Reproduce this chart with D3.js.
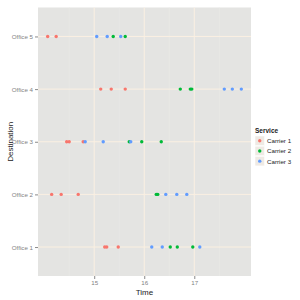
<!DOCTYPE html>
<html>
<head>
<meta charset="utf-8">
<script src="https://cdn.jsdelivr.net/npm/d3@7"></script>
<style>
body { margin: 0; background: #fff; }
text { font-family: "Liberation Sans", Arial, sans-serif; }
</style>
</head>
<body>
<div id="chart"></div>
<script>
var svgWidth = 300;
var svgHeight = 300;

var offices = ["Office 1", "Office 2", "Office 3", "Office 4", "Office 5"];
var carriers = ["Carrier 1", "Carrier 2", "Carrier 3"];
var carrierColors = ["#F8766D", "#00BA38", "#619CFF"];
var xTicks = [15, 16, 17];
var xMinor = [14.5, 15.5, 16.5, 17.5];

// each carrier: departure times and the office they go to
var carrier1Time = [14.07, 14.24, 15.13, 15.34, 15.62, 14.45, 14.50, 14.78, 14.15, 14.34, 14.68, 15.21, 15.25, 15.48];
var carrier1Dest = ["Office 5", "Office 5", "Office 4", "Office 4", "Office 4", "Office 3", "Office 3", "Office 3", "Office 2", "Office 2", "Office 2", "Office 1", "Office 1", "Office 1"];
var carrier2Time = [15.38, 15.62, 16.72, 16.92, 16.95, 15.70, 15.95, 16.34, 16.24, 16.27, 16.52, 16.66, 16.97];
var carrier2Dest = ["Office 5", "Office 5", "Office 4", "Office 4", "Office 4", "Office 3", "Office 3", "Office 3", "Office 2", "Office 2", "Office 1", "Office 1", "Office 1"];
var carrier3Time = [15.05, 15.26, 15.53, 17.60, 17.76, 17.94, 14.82, 15.18, 15.73, 16.43, 16.65, 16.85, 16.15, 16.36, 17.11];
var carrier3Dest = ["Office 5", "Office 5", "Office 5", "Office 4", "Office 4", "Office 4", "Office 3", "Office 3", "Office 3", "Office 2", "Office 2", "Office 2", "Office 1", "Office 1", "Office 1"];

var points = [];
[[carrier1Time, carrier1Dest], [carrier2Time, carrier2Dest], [carrier3Time, carrier3Dest]].forEach(function(pair, c) {
    pair[0].forEach(function(t, i) {
        points.push({time: t, dest: pair[1][i], carrier: carriers[c]});
    });
});

var panel = {left: 38, right: 251, top: 7.5, bottom: 276};

var svg = d3.select("#chart")
    .append("svg")
    .attr("width", svgWidth)
    .attr("height", svgHeight);

var ext = d3.extent(points, d => d.time);
var pad = (ext[1] - ext[0]) * 0.05;

var x = d3.scaleLinear()
    .domain([ext[0] - pad, ext[1] + pad])
    .range([panel.left, panel.right]);

var y = d3.scalePoint()
    .domain(offices.slice().reverse())
    .range([panel.top, panel.bottom])
    .padding(0.55);

var color = d3.scaleOrdinal().domain(carriers).range(carrierColors);

svg.append("rect")
    .attr("x", panel.left)
    .attr("y", panel.top)
    .attr("width", panel.right - panel.left)
    .attr("height", panel.bottom - panel.top)
    .attr("fill", "#e4e4e2");

// minor grid
svg.selectAll(".minor")
    .data(xMinor)
    .enter()
    .append("line")
    .attr("x1", d => x(d)).attr("x2", d => x(d))
    .attr("y1", panel.top).attr("y2", panel.bottom)
    .attr("stroke", "#eaeae7")
    .attr("stroke-width", 0.5);

// major grid
svg.selectAll(".vgrid")
    .data(xTicks)
    .enter()
    .append("line")
    .attr("x1", d => x(d)).attr("x2", d => x(d))
    .attr("y1", panel.top).attr("y2", panel.bottom)
    .attr("stroke", "#fbf0e2")
    .attr("stroke-width", 1);

svg.selectAll(".hgrid")
    .data(offices)
    .enter()
    .append("line")
    .attr("x1", panel.left).attr("x2", panel.right)
    .attr("y1", d => y(d)).attr("y2", d => y(d))
    .attr("stroke", "#fbf0e2")
    .attr("stroke-width", 1);

var bottomAxis = d3.axisBottom(x).tickValues(xTicks).tickSize(3).tickPadding(2).tickFormat(d3.format("d"));
var leftAxis = d3.axisLeft(y).tickSize(3).tickPadding(2);

var gx = svg.append("g")
    .attr("transform", `translate(0, ${panel.bottom})`)
    .call(bottomAxis);
var gy = svg.append("g")
    .attr("transform", `translate(${panel.left}, 0)`)
    .call(leftAxis);

[gx, gy].forEach(function(g) {
    g.select(".domain").remove();
    g.selectAll(".tick line").attr("stroke", "#8a8a8a");
    g.selectAll(".tick text")
        .attr("fill", "#7f7f7f")
        .style("font-size", "6.2px");
});

svg.append("g")
    .selectAll("circle")
    .data(points)
    .enter()
    .append("circle")
    .attr("cx", d => x(d.time))
    .attr("cy", d => y(d.dest))
    .attr("r", 1.7)
    .attr("fill", d => color(d.carrier));

svg.append("text")
    .attr("x", (panel.left + panel.right) / 2)
    .attr("y", 295)
    .attr("text-anchor", "middle")
    .style("font-size", "8px")
    .attr("fill", "#222")
    .text("Time");

svg.append("text")
    .attr("transform", `translate(12.5, ${(panel.top + panel.bottom) / 2}) rotate(-90)`)
    .attr("text-anchor", "middle")
    .style("font-size", "8px")
    .attr("fill", "#222")
    .text("Destination");

// legend
var legend = svg.append("g").attr("transform", "translate(255, 0)");
legend.append("text")
    .attr("x", 0)
    .attr("y", 133)
    .style("font-size", "6.5px")
    .style("font-weight", "bold")
    .attr("fill", "#222")
    .text("Service");

var keys = legend.selectAll(".key")
    .data(carriers)
    .enter()
    .append("g")
    .attr("transform", (d, i) => `translate(0, ${136 + i * 10.2})`);

keys.append("rect")
    .attr("width", 9.5)
    .attr("height", 9.5)
    .attr("fill", "#efeae4")
    .attr("stroke", "#fff")
    .attr("stroke-width", 0.5);

keys.append("circle")
    .attr("cx", 4.75)
    .attr("cy", 4.75)
    .attr("r", 1.7)
    .attr("fill", d => color(d));

keys.append("text")
    .attr("x", 12)
    .attr("y", 7.2)
    .style("font-size", "6.2px")
    .attr("fill", "#222")
    .text(d => d);
</script>
</body>
</html>
